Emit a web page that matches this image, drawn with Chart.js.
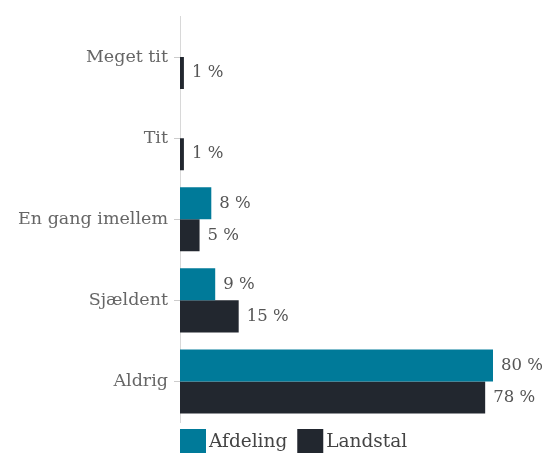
<!DOCTYPE html>
<html>
<head>
<meta charset="utf-8">
<script src="https://cdn.jsdelivr.net/npm/chart.js@4/dist/chart.umd.min.js"></script>
<style>
html,body{margin:0;padding:0;background:#fff;}
#wrap{width:552px;height:456px;position:relative;}
</style>
</head>
<body>
<div id="wrap"><canvas id="c" width="552" height="456"></canvas></div>
<script>
const categories = ["Meget tit", "Tit", "En gang imellem", "Sjældent", "Aldrig"];
const afdeling = [0, 0, 8, 9, 80];
const landstal = [1, 1, 5, 15, 78];
const seriesNames = ["Afdeling", "Landstal"];
const xMax = 80;

const FONT = "'DejaVu Serif', 'Liberation Serif', serif";

const valueLabels = {
  id: 'valueLabels',
  afterDatasetsDraw(chart) {
    const ctx = chart.ctx;
    ctx.save();
    ctx.font = "16.5px " + FONT;
    ctx.fillStyle = "#555";
    ctx.textAlign = "left";
    ctx.textBaseline = "middle";
    chart.data.datasets.forEach((ds, di) => {
      const meta = chart.getDatasetMeta(di);
      meta.data.forEach((bar, i) => {
        const v = ds.data[i];
        if (!v) return;
        ctx.fillText(v + " %", bar.x + 8, bar.y);
      });
    });
    ctx.restore();
  }
};

const customLegend = {
  id: 'customLegend',
  afterDraw(chart) {
    const ctx = chart.ctx;
    const area = chart.chartArea;
    ctx.save();
    ctx.font = "18.5px " + FONT;
    ctx.textAlign = "left";
    ctx.textBaseline = "middle";
    let x = area.left;
    const y = area.bottom + 7;
    chart.data.datasets.forEach((ds) => {
      ctx.fillStyle = ds.backgroundColor;
      ctx.fillRect(x, y, 26, 24);
      ctx.fillStyle = "#444";
      ctx.fillText(ds.label, x + 29, y + 13);
      x += 29 + ctx.measureText(ds.label).width + 10;
    });
    ctx.restore();
  }
};

new Chart(document.getElementById('c'), {
  type: 'bar',
  data: {
    labels: categories,
    datasets: [
      { label: seriesNames[0], data: afdeling, backgroundColor: '#007a99', borderWidth: 0 },
      { label: seriesNames[1], data: landstal, backgroundColor: '#22272f', borderWidth: 0 }
    ]
  },
  options: {
    indexAxis: 'y',
    responsive: false,
    animation: false,
    devicePixelRatio: 1,
    layout: { padding: { top: 14, right: 59, bottom: 34, left: 0 } },
    scales: {
      x: { display: false, min: 0, max: xMax },
      y: {
        afterFit(scale) { scale.width = 180; },
        grid: { drawOnChartArea: false, offset: false, tickLength: 6, color: '#cccccc' },
        border: { color: '#d8d8d8', width: 1 },
        ticks: { color: '#666', font: { family: FONT, size: 17.5 }, padding: 6 }
      }
    },
    datasets: { bar: { categoryPercentage: 0.79, barPercentage: 1.0 } },
    plugins: {
      legend: { display: false },
      tooltip: { enabled: false }
    }
  },
  plugins: [valueLabels, customLegend]
});
</script>
</body>
</html>
